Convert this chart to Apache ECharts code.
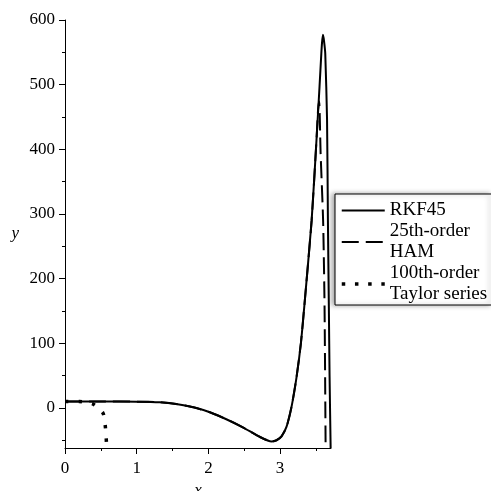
<!DOCTYPE html>
<html>
<head>
<meta charset="utf-8">
<script src="https://cdn.jsdelivr.net/npm/echarts@6/dist/echarts.min.js"></script>
<style>
  html, body { margin: 0; padding: 0; background: #fff; }
  #main { width: 491px; height: 491px; }
</style>
</head>
<body>
<div id="main"></div>
<script>
// values
var rkfX = [0, 0.5, 1.0, 1.32, 1.55, 1.79, 2.02, 2.25, 2.48, 2.72, 2.88, 2.95, 3.02, 3.09, 3.16, 3.23, 3.29, 3.34, 3.44, 3.51, 3.55, 3.575, 3.585, 3.598, 3.612, 3.63, 3.655, 3.667, 3.68, 3.69, 3.705];
var rkfY = [10, 10, 9.7, 8.8, 6.2, 1, -6.7, -17.5, -30, -45, -52, -50, -44, -29, 2, 48, 100, 160, 290, 419, 497, 548, 565, 577, 568, 548, 445, 290, 157, 50, -62];

var hamX = [0, 0.5, 1.0, 1.32, 1.55, 1.79, 2.02, 2.25, 2.48, 2.72, 2.88, 2.95, 3.02, 3.09, 3.16, 3.23, 3.29, 3.34, 3.44, 3.51, 3.53, 3.545, 3.565, 3.60, 3.62, 3.635];
var hamY = [10, 10, 9.7, 8.8, 6.2, 1, -6.7, -17.5, -30, -45, -52, -50, -44, -29, 2, 48, 100, 160, 290, 419, 462, 474, 394, 290, 157, -62];

var taylorX = [0, 0.2, 0.39, 0.53, 0.56, 0.575, 0.58];
var taylorY = [10, 10, 6, -8, -26, -47, -62];

var xTicks = [0, 1, 2, 3];
var xMinorTicks = [0.5, 1.5, 2.5, 3.5];
var yTicks = [0, 100, 200, 300, 400, 500, 600];
var yMinorTicks = [-50, 50, 150, 250, 350, 450, 550];

var names = ['RKF45', '25th-order HAM', '100th-order Taylor series'];

function pairs(xs, ys) {
    var out = [];
    for (var i = 0; i < xs.length; i++) out.push([xs[i], ys[i]]);
    return out;
}

var font = "'Liberation Serif', 'Times New Roman', serif";
var dotted = {color: '#000', width: 3.5, type: [3.5, 10], cap: 'butt'};
var dashed = {color: '#000', width: 2, type: [17, 7]};
var solid = {color: '#000', width: 2};

var myChart = echarts.init(document.getElementById('main'));
var option = {
    animation: false,
    backgroundColor: '#fff',
    textStyle: {fontFamily: font, color: '#000'},
    grid: {left: 65, right: 160, top: 20, bottom: 43, outerBoundsMode: 'none'},
    legend: {
        orient: 'vertical',
        left: 335, top: 194,
        padding: [6, 6, 0, 5],
        itemGap: 0,
        itemWidth: 43, itemHeight: 14,
        backgroundColor: '#fff',
        borderColor: '#000', borderWidth: 1, borderRadius: 0,
        shadowColor: 'rgba(0,0,0,0.35)', shadowBlur: 5, shadowOffsetX: -3,
        itemStyle: {opacity: 0},
        textStyle: {fontFamily: font, fontSize: 19, color: '#000', lineHeight: 21},
        formatter: function (n) { return n === 'RKF45' ? n : n.replace(' ', '\n'); },
        data: [
            {name: names[0], lineStyle: solid},
            {name: names[1], lineStyle: dashed},
            {name: names[2], lineStyle: {color: '#000', width: 3.5, type: [3.5, 9.7], cap: 'butt', dashOffset: 0}}
        ]
    },
    xAxis: [{
        type: 'value', min: 0, max: 3.71,
        name: 'x', nameLocation: 'middle', nameGap: 25,
        nameTextStyle: {fontFamily: font, fontSize: 17, fontStyle: 'italic', color: '#000'},
        axisLine: {onZero: false, lineStyle: {color: '#000', width: 1}},
        axisTick: {customValues: xTicks, length: 6, lineStyle: {color: '#000'}},
        axisLabel: {customValues: xTicks, margin: 12, fontFamily: font, fontSize: 17, color: '#000'},
        splitLine: {show: false}
    }, {
        type: 'value', min: 0, max: 3.71, position: 'bottom',
        axisLine: {show: false, onZero: false},
        axisTick: {customValues: xMinorTicks, length: 3, lineStyle: {color: '#000'}},
        axisLabel: {show: false},
        splitLine: {show: false}
    }],
    yAxis: [{
        type: 'value', min: -62, max: 600,
        name: 'y', nameLocation: 'middle', nameGap: 46, nameRotate: 0,
        nameTextStyle: {fontFamily: font, fontSize: 17, fontStyle: 'italic', color: '#000'},
        axisLine: {show: true, onZero: false, lineStyle: {color: '#000', width: 1}},
        axisTick: {show: true, customValues: yTicks, length: 6, lineStyle: {color: '#000'}},
        axisLabel: {customValues: yTicks, margin: 10, fontFamily: font, fontSize: 17, color: '#000'},
        splitLine: {show: false}
    }, {
        type: 'value', min: -62, max: 600, position: 'left',
        axisLine: {show: false, onZero: false},
        axisTick: {show: true, customValues: yMinorTicks, length: 3, lineStyle: {color: '#000'}},
        axisLabel: {show: false},
        splitLine: {show: false}
    }],
    series: [{
        name: names[2], type: 'line', symbol: 'none', smooth: 0.2,
        lineStyle: dotted,
        itemStyle: {color: '#000'},
        data: pairs(taylorX, taylorY)
    }, {
        name: names[1], type: 'line', symbol: 'none', smooth: 0.2,
        lineStyle: dashed,
        itemStyle: {color: '#000'},
        data: pairs(hamX, hamY)
    }, {
        name: names[0], type: 'line', symbol: 'none', smooth: 0.2,
        lineStyle: solid,
        itemStyle: {color: '#000'},
        data: pairs(rkfX, rkfY)
    }]
};
myChart.setOption(option);
window.onresize = myChart.resize;
</script>
</body>
</html>
